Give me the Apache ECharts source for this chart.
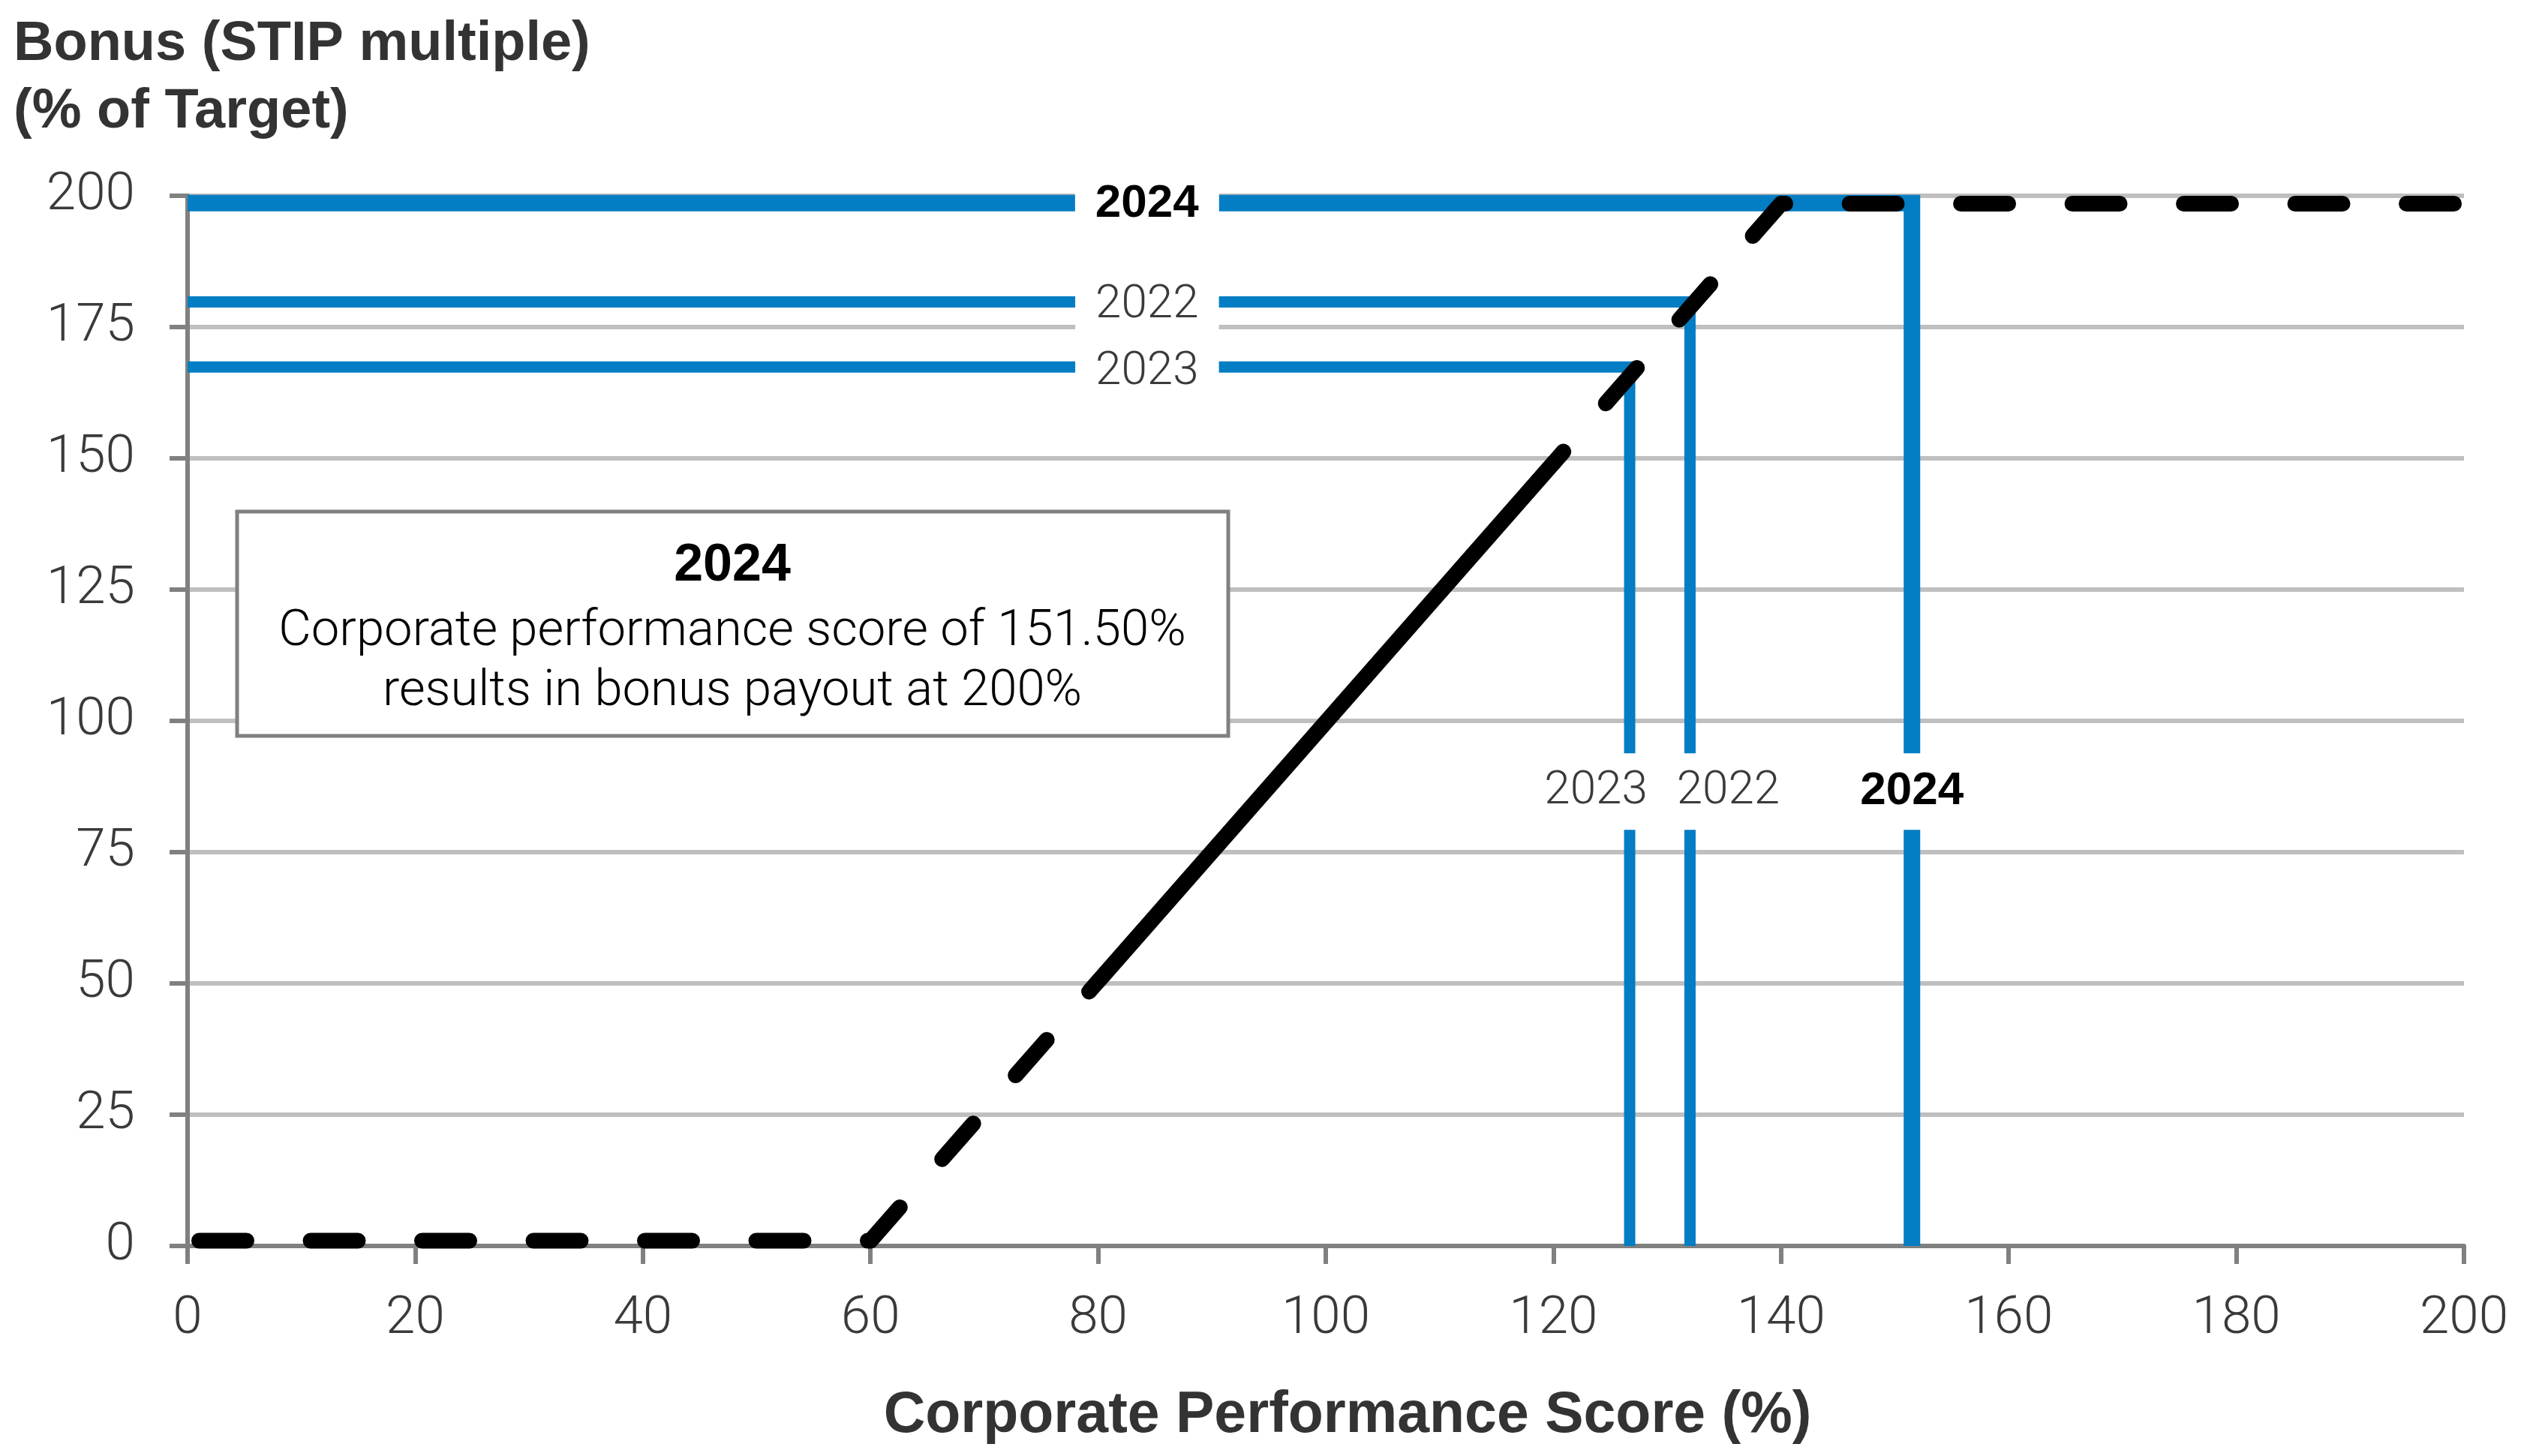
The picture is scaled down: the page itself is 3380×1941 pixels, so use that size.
<!DOCTYPE html>
<html><head><meta charset="utf-8">
<script src="https://cdn.jsdelivr.net/npm/echarts@6/dist/echarts.min.js"></script>
<style>html,body{margin:0;padding:0;background:#fff}#c{width:3380px;height:1941px}</style>
</head><body><div id="c"></div><script>
// ---- data ----
const xTicks = [0, 20, 40, 60, 80, 100, 120, 140, 160, 180, 200];
const yTicks = [0, 25, 50, 75, 100, 125, 150, 175, 200];
const years = ['2022', '2023', '2024'];
const scores = [132.0, 126.7, 151.5];      // corporate performance score (%)
const bonuses = [179.8, 167.4, 198.6];     // bonus (% of target)
const curveLowDashed = [[0, 1], [60, 1], [80, 50.4]];
const curveSolid = [[80, 50.4], [120, 149.1]];
const curveHighDashed = [[120, 149.1], [140, 198.5], [200, 198.5]];
const yTitleLines = ['Bonus (STIP multiple)', '(% of Target)'];
const xTitle = 'Corporate Performance Score (%)';
const calloutTitle = '2024';
const calloutLines = ['Corporate performance score of 151.50%', 'results in bonus payout at 200%'];

// ---- styling ----
const BLUE = '#037dc3';
const AXIS = '#808080';
const GRID = '#bfbfbf';
const TXT = '#3a3a3a';
const LIGHT = 'Roboto, "Liberation Sans", Arial, sans-serif';
const BOLD = '"Liberation Sans", Arial, sans-serif';
const hLabelX = 84.3, vLabelY = 87.1;
const vLabelOffset = {'2022': 51, '2023': -45, '2024': 0};
const hLabelDy = {'2022': 5, '2023': 7, '2024': 1};
const dashPattern = [63, 85.5];

const series = [];
years.forEach((y, i) => {
  const hi = y === '2024';
  series.push({
    type: 'line', name: y, z: 2, clip: false, silent: true, symbol: 'none',
    data: [[0, bonuses[i]], [scores[i], bonuses[i]], [scores[i], 0]],
    lineStyle: {color: BLUE, width: hi ? 22 : 15, join: 'miter', cap: 'butt'}
  });
});
const blackBase = {type: 'line', z: 3, clip: false, silent: true, symbol: 'none'};
series.push(Object.assign({}, blackBase, {data: curveLowDashed,
  lineStyle: {color: '#000', width: 21, type: dashPattern, dashOffset: 133, cap: 'round', join: 'round'}}));
series.push(Object.assign({}, blackBase, {data: curveSolid,
  lineStyle: {color: '#000', width: 21, type: 'solid', cap: 'round', join: 'round'}}));
series.push(Object.assign({}, blackBase, {data: curveHighDashed,
  lineStyle: {color: '#000', width: 21, type: dashPattern, dashOffset: 42.7, cap: 'round', join: 'round'}}));

function yearLabel(y, horizontal) {
  const hi = y === '2024';
  return {
    show: true, position: 'inside', formatter: '{b}',
    fontSize: 62, lineHeight: 62,
    fontFamily: hi ? BOLD : LIGHT, fontWeight: hi ? 'bold' : 300,
    color: hi ? '#000' : TXT, backgroundColor: '#ffffff', opacity: 1,
    padding: horizontal ? [6, 27] : [20, 8],
    offset: horizontal ? [0, hLabelDy[y]] : [vLabelOffset[y], 4]
  };
}
const labelData = [];
years.forEach((y, i) => {
  labelData.push({name: y, value: [hLabelX, bonuses[i]], label: yearLabel(y, true)});
  labelData.push({name: y, value: [scores[i], vLabelY], label: yearLabel(y, false)});
});
series.push({type: 'scatter', z: 5, silent: true, symbolSize: 1, clip: false,
  itemStyle: {color: 'rgba(0,0,0,0)', opacity: 1},
  emphasis: {disabled: true}, data: labelData});

const option = {
  animation: false,
  backgroundColor: '#fff',
  grid: {left: 250, right: 96, top: 261, bottom: 280, containLabel: false, outerBoundsMode: 'none'},
  xAxis: {
    type: 'value', min: xTicks[0], max: xTicks[xTicks.length - 1], interval: xTicks[1] - xTicks[0],
    axisLine: {show: true, lineStyle: {color: AXIS, width: 6}},
    axisTick: {show: true, length: 24, lineStyle: {color: AXIS, width: 6}},
    splitLine: {show: false},
    axisLabel: {fontSize: 71, fontFamily: LIGHT, fontWeight: 300, color: TXT, margin: 63}
  },
  yAxis: {
    type: 'value', min: yTicks[0], max: yTicks[yTicks.length - 1], interval: yTicks[1] - yTicks[0],
    axisLine: {show: true, lineStyle: {color: AXIS, width: 6}},
    axisTick: {show: true, length: 24, lineStyle: {color: AXIS, width: 6}},
    splitLine: {show: true, lineStyle: {color: GRID, width: 6}},
    axisLabel: {fontSize: 71, fontFamily: LIGHT, fontWeight: 300, color: TXT, margin: 70}
  },
  graphic: [
    {type: 'text', x: 18, y: 60, z: 20, style: {text: yTitleLines[0], fontSize: 74, fontWeight: 'bold', fontFamily: BOLD, fill: '#333', align: 'left', verticalAlign: 'middle'}},
    {type: 'text', x: 18, y: 150, z: 20, style: {text: yTitleLines[1], fontSize: 74, fontWeight: 'bold', fontFamily: BOLD, fill: '#333', align: 'left', verticalAlign: 'middle'}},
    {type: 'text', x: 1796, y: 1888, z: 20, style: {text: xTitle, fontSize: 77, fontWeight: 'bold', fontFamily: BOLD, fill: '#333', align: 'center', verticalAlign: 'middle'}},
    {type: 'rect', z: 20, shape: {x: 316, y: 682, width: 1321, height: 299}, style: {fill: '#fff', stroke: AXIS, lineWidth: 5}},
    {type: 'text', x: 976, y: 755, z: 21, style: {text: calloutTitle, fontSize: 70, fontWeight: 'bold', fontFamily: BOLD, fill: '#000', align: 'center', verticalAlign: 'middle'}},
    {type: 'text', x: 976, y: 843, z: 21, style: {text: calloutLines[0], fontSize: 67, fontWeight: 300, fontFamily: LIGHT, fill: '#000', align: 'center', verticalAlign: 'middle'}},
    {type: 'text', x: 976, y: 923, z: 21, style: {text: calloutLines[1], fontSize: 67, fontWeight: 300, fontFamily: LIGHT, fill: '#000', align: 'center', verticalAlign: 'middle'}}
  ],
  series: series
};
const chart = echarts.init(document.getElementById('c'), null, {renderer: 'canvas'});
chart.setOption(option);
</script></body></html>
